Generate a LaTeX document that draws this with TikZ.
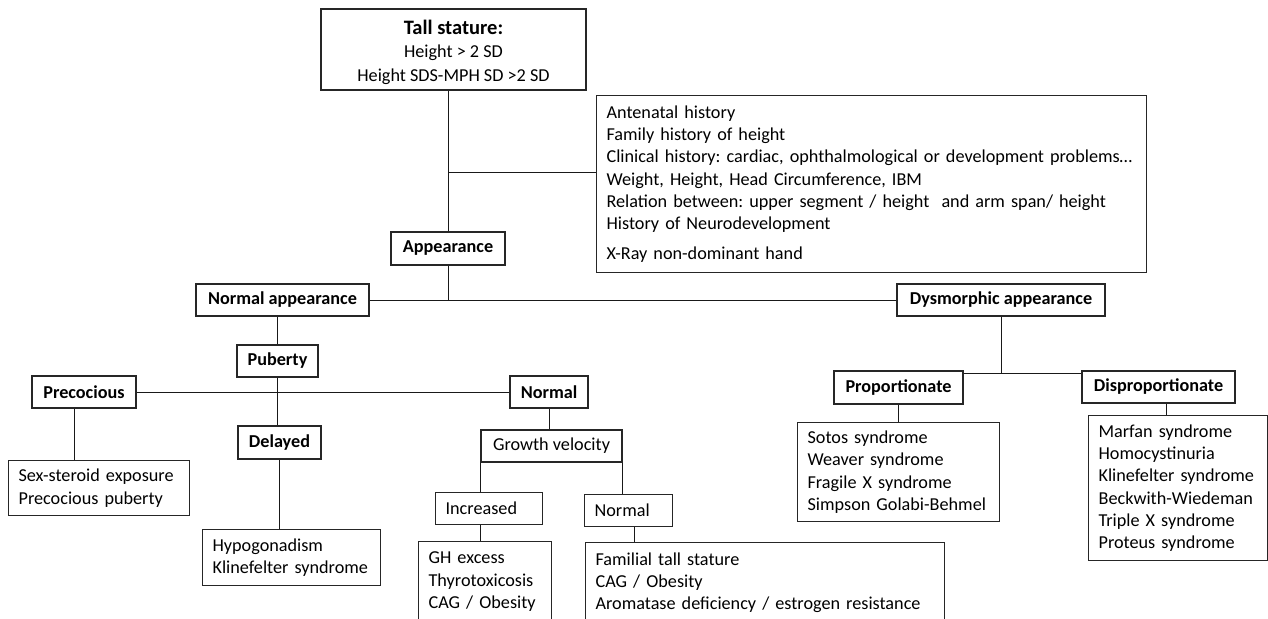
\documentclass[tikz,border=0pt]{standalone}
\usepackage{fontspec}
\setmainfont{Carlito}
\frenchspacing

\begin{document}
\begin{tikzpicture}[x=1pt,y=-1pt,
  box/.style={draw=black!85, line width=1.2pt, inner sep=0pt},
  head/.style={box, font=\bfseries\fontsize{18.2}{22.3}\selectfont},
  listbox/.style={box, anchor=north west, align=left, inner xsep=10pt, inner ysep=0pt,
                  font=\fontsize{18.2}{22.3}\selectfont},
  link/.style={line width=0.8pt, black!90}]

\useasboundingbox (0,0) rectangle (1268,618);
\clip (0,0) rectangle (1268,618);

% top of the tree
\node[head, align=center, minimum width=265pt, minimum height=81pt,
      font=\fontsize{18.2}{24}\selectfont] (tall) at (453.5,49.5)
  {\rule{0pt}{21pt}{\bfseries\fontsize{20.5}{24}\selectfont Tall stature:}\\[-1pt] Height > 2 SD\\ Height SDS-MPH SD >2 SD};
\node[listbox, text width=530pt, minimum height=177pt] (hist) at (596,95)
  {Antenatal history\\ Family history of height\\
   Clinical history: cardiac, ophthalmological or development problems…\\
   Weight, Height, Head Circumference, IBM\\
   Relation between: upper segment / height~ and arm span/ height\\
   History of Neurodevelopment\\[7.7pt]
   X-Ray non-dominant hand};
\node[head, minimum width=114pt, minimum height=33pt] (appear) at (448,248.5) {Appearance};
\node[head, minimum width=173pt, minimum height=32pt] (normapp) at (282.5,300) {Normal appearance};
\node[head, minimum width=208pt, minimum height=32pt] (dysapp) at (1001,300) {Dysmorphic appearance};

% normal appearance branch
\node[head, minimum width=81pt, minimum height=32pt] (puberty) at (277.5,361) {Puberty};
\node[head, minimum width=104pt, minimum height=32pt] (precoc) at (84,392) {Precocious};
\node[head, minimum width=83pt, minimum height=33pt] (delayed) at (279.5,442.5) {Delayed};
\node[head, minimum width=78pt, minimum height=32pt] (normb) at (549,392) {Normal};
\node[box, minimum width=141pt, minimum height=32pt, font=\fontsize{18.2}{22.3}\selectfont]
  (growth) at (551.5,446) {Growth velocity};
\node[listbox, text width=87pt, minimum height=32pt] (incr) at (435,492) {Increased};
\node[listbox, text width=68pt, minimum height=32pt] (normv) at (584,494) {Normal};

\node[listbox, text width=161pt, minimum height=55pt] (sexst) at (8,460)
  {Sex-steroid exposure\\ Precocious puberty};
\node[listbox, text width=158pt, minimum height=56pt] (hypo) at (202,529)
  {Hypogonadism\\ Klinefelter syndrome};
\node[listbox, text width=113pt, minimum height=80pt] (ghbox) at (418,541)
  {GH excess\\ Thyrotoxicosis\\ CAG / Obesity};
\node[listbox, text width=339pt, minimum height=80pt] (famil) at (585,542)
  {Familial tall stature\\ CAG / Obesity\\ Aromatase deficiency / estrogen resistance};

% dysmorphic branch
\node[head, minimum width=129pt, minimum height=33pt] (prop) at (898.5,387.5) {Proportionate};
\node[head, minimum width=153pt, minimum height=32pt] (disp) at (1158.5,387) {Disproportionate};
\node[listbox, text width=182pt, minimum height=99pt] (sotos) at (797,422)
  {Sotos syndrome\\ Weaver syndrome\\ Fragile X syndrome\\ Simpson Golabi-Behmel};
\node[listbox, text width=159pt, minimum height=145pt] (marfan) at (1088,415)
  {Marfan syndrome\\ Homocystinuria\\ Klinefelter syndrome\\ Beckwith-Wiedeman\\
   Triple X syndrome\\ Proteus syndrome};

% connectors
\coordinate (histfork) at (448,172);
\draw[link] (appear.north) -- (appear.north |- tall.south);
\draw[link] (histfork) -- (histfork -| hist.west);
\draw[link] (appear.south) -- (appear.south |- normapp.east);
\draw[link] (normapp.east) -- (dysapp.west);

\draw[link] (puberty.north) -- (puberty.north |- normapp.south);
\draw[link] (puberty.south) -- (puberty.south |- delayed.north);
\draw[link] (precoc.east) -- (normb.west);
\draw[link] ([xshift=-10pt]precoc.south) -- ([xshift=-10pt]precoc.south |- sexst.north);
\draw[link] (delayed.south) -- (delayed.south |- hypo.north);
\draw[link] (normb.south) -- (normb.south |- growth.north);
\draw[link] (growth.south west) -- (growth.south west |- incr.north);
\draw[link] (growth.south east) -- (growth.south east |- normv.north);
\draw[link] (incr.south -| growth.south west) -- (ghbox.north -| growth.south west);
\draw[link] ([xshift=6pt]normv.south) -- ([xshift=6pt]normv.south |- famil.north);

\draw[link] (dysapp.south) -- ++(0,57) coordinate (dysfork);
\draw[link] (dysfork -| prop.east) -- (dysfork -| disp.west);
\draw[link] (prop.south) -- (prop.south |- sotos.north);
\draw[link] ([xshift=8pt]disp.south) -- ([xshift=8pt]disp.south |- marfan.north);

\end{tikzpicture}
\end{document}
